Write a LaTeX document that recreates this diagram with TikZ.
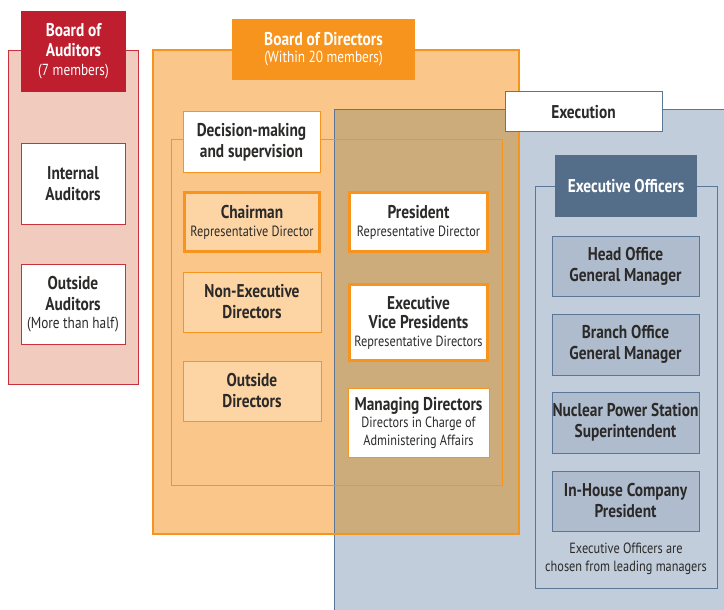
\documentclass[tikz,border=0pt]{standalone}
\usepackage{fontspec}
\setmainfont[FakeStretch=0.83]{PT Sans}
\definecolor{txt}{HTML}{2B2A29}
\definecolor{audred}{HTML}{BE1E2D}
\definecolor{audfill}{HTML}{F0CBBE}
\definecolor{audline}{HTML}{C8323C}
\definecolor{dirorange}{HTML}{F7941D}
\definecolor{dirfill}{HTML}{FBC689}
\definecolor{peach}{HTML}{FDD5A5}
\definecolor{tanc}{HTML}{CDAC7C}
\definecolor{exefill}{HTML}{C1CDDA}
\definecolor{exeline}{HTML}{5B7697}
\definecolor{offdark}{HTML}{546E8A}
\definecolor{offbox}{HTML}{AFBCCD}
\tikzset{
  rbox/.style={rectangle, outer sep=0pt, inner sep=0pt, align=center, text=txt,
    font=\bfseries\fontsize{18.5}{21}\selectfont},
  sub/.style={font=\mdseries\fontsize{14.8}{18}\selectfont},
  audbox/.style={rbox, draw=audline, line width=1pt, fill=white},
  thinor/.style={rbox, draw=dirorange, line width=1pt},
  thickor/.style={rbox, draw=dirorange, line width=3pt},
  offb/.style={rbox, draw=exeline, line width=1pt, fill=offbox, minimum width=147},
}
\newcommand{\sm}[1]{{\mdseries\fontsize{14.8}{18}\selectfont #1}}
\newcommand{\smh}[1]{{\mdseries\fontsize{16}{18}\selectfont #1}}
\begin{document}
\begin{tikzpicture}[x=1pt,y=-1pt]
\clip (0,0) rectangle (724,610);
\fill[white] (0,0) rectangle (724,610);
% Board of Auditors
\node[rbox, draw=audline, line width=1pt, fill=audfill, minimum width=130, minimum height=333] (audOuter) at (73,217.5) {};
\node[rbox, fill=audred, text=white, minimum width=105, minimum height=81] (audHead) at (73.5,51.5) {Board of\\[-1pt]Auditors\\[-2pt]\smh{(7 members)}};
\node[audbox, minimum width=104, minimum height=80] (intAud) at (73,184) {Internal\\Auditors};
\node[audbox, minimum width=104, minimum height=80] (outAud) at (73,304) {Outside\\Auditors\\[-3pt]\smh{(More than half)}};
% Board of Directors region and Execution region
\node[rbox, fill=dirfill, minimum width=366, minimum height=484] (dirOuter) at (336,292) {};
\node[rbox, fill=exefill, minimum width=396, minimum height=506] (exe) at (532,363) {};
\fill[tanc] (exe.north west) rectangle (dirOuter.south east);
\draw[exeline, line width=1pt] (exe.north west) rectangle (exe.south east);
\draw[dirorange, line width=2.2pt] (dirOuter.north west) rectangle (dirOuter.south east);
\node[thinor, minimum width=331, minimum height=345] (decInner) at (336.5,312.5) {};
\node[rbox, fill=dirorange, text=white, minimum width=183, minimum height=61] (dirHead) at (323.5,49.5) {Board of Directors\\[-4pt]\smh{(Within 20 members)}};
\node[thinor, fill=white, minimum width=137, minimum height=60] (decLabel) at (251.5,142) {Decision-making\\and supervision};
\node[thickor, fill=peach, minimum width=135, minimum height=59] (chair) at (252,222) {Chairman\\[-3pt]\sm{Representative Director}};
\node[thinor, fill=peach, minimum width=138, minimum height=60] (nonexec) at (252,302) {Non-Executive\\Directors};
\node[thinor, fill=peach, minimum width=138, minimum height=60] (outdir) at (252,391) {Outside\\Directors};
\node[thickor, fill=white, minimum width=138, minimum height=59] (pres) at (418.5,222) {President\\[-3pt]\sm{Representative Director}};
\node[thickor, fill=white, minimum width=138, minimum height=76] (evp) at (418.5,322.5) {Executive\\[-2pt]Vice Presidents\\[-3pt]\sm{Representative Directors}};
\node[thinor, fill=white, minimum width=141, minimum height=69] (manag) at (418.5,422.5) {Managing Directors\\[-3.5pt]\sm{Directors in Charge of}\\[-3.5pt]\sm{Administering Affairs}};
% Execution
\node[rbox, draw=exeline, line width=1pt, fill=white, minimum width=157, minimum height=40] (execLabel) at (583.5,112) {Execution};
\node[rbox, draw=exeline, line width=1pt, fill=exefill, minimum width=182, minimum height=402] (offOuter) at (626,387) {};
\node[rbox, fill=offdark, text=white, minimum width=142, minimum height=62] (offHead) at (626,186) {Executive Officers};
\node[offb, minimum height=60] (headoff) at (625.5,266) {Head Office\\General Manager};
\node[offb, minimum height=61] (branch) at (625.5,344.5) {Branch Office\\General Manager};
\node[offb, minimum height=61] (nuclear) at (625.5,422.5) {Nuclear Power Station\\Superintendent};
\node[offb, minimum height=60] (inhouse) at (625.5,501) {In-House Company\\President};
\node[rbox, sub] (caption) at (626,559) {Executive Officers are\\chosen from leading managers};
\end{tikzpicture}
\end{document}
